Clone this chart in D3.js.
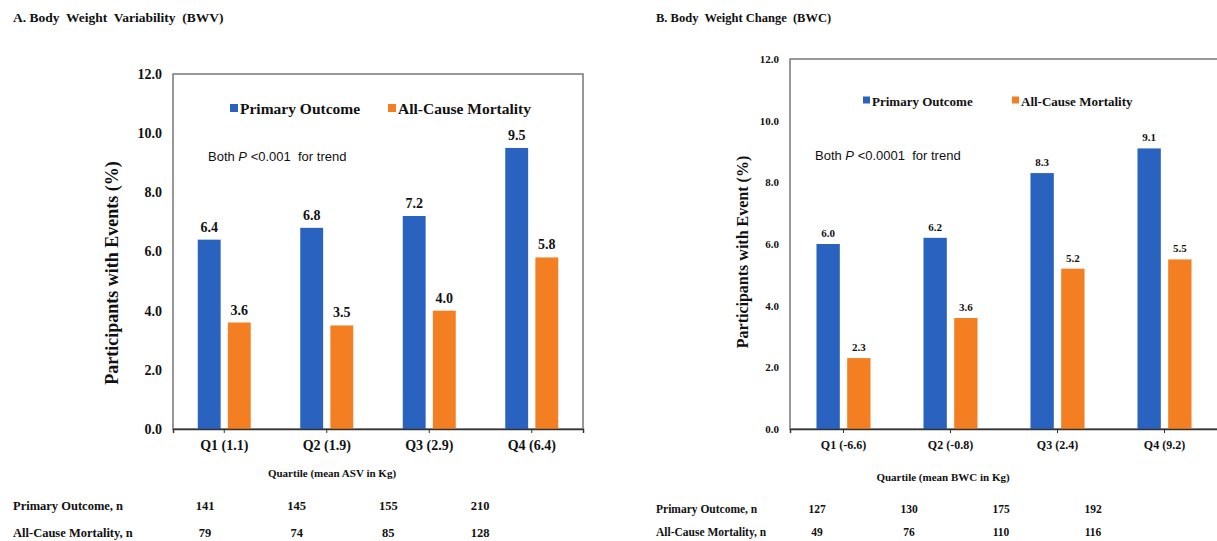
<!DOCTYPE html>
<html>
<head>
<meta charset="utf-8">
<script src="https://cdn.jsdelivr.net/npm/d3@7"></script>
<style>
  body { margin: 0; background: #fff; }
  svg text { font-family: "Liberation Serif", "Times New Roman", serif; font-weight: bold; fill: #111; white-space: pre; }
  .note { font-family: "Liberation Sans", Arial, sans-serif !important; font-weight: normal !important; }
</style>
</head>
<body>
<div id="chart"></div>
<script>
// values
var seriesNames = ["Primary Outcome", "All-Cause Mortality"];
var seriesColors = ["#2a62bf", "#f47f22"];
var yTicks = [0, 2, 4, 6, 8, 10, 12];

var quartilesA = ["Q1 (1.1)", "Q2 (1.9)", "Q3 (2.9)", "Q4 (6.4)"];
var primaryA = [6.4, 6.8, 7.2, 9.5];
var mortalityA = [3.6, 3.5, 4.0, 5.8];
var primaryNA = [141, 145, 155, 210];
var mortalityNA = [79, 74, 85, 128];

var quartilesB = ["Q1 (-6.6)", "Q2 (-0.8)", "Q3 (2.4)", "Q4 (9.2)"];
var primaryB = [6.0, 6.2, 8.3, 9.1];
var mortalityB = [2.3, 3.6, 5.2, 5.5];
var primaryNB = [127, 130, 175, 192];
var mortalityNB = [49, 76, 110, 116];

var serif = "'Liberation Serif', 'Times New Roman', serif";

var svg = d3.select("#chart").append("svg")
	.attr("width", 1217)
	.attr("height", 541);

function drawPanel(p) {
	var g = svg.append("g");

	var rows = p.quartiles.map(function(q, i) {
		return { q: q, vals: [p.primary[i], p.mortality[i]] };
	});

	var x0 = d3.scaleBand().domain(p.quartiles).range([p.left, p.right])
		.paddingInner(p.padIn).paddingOuter(p.padIn / 2);
	var x1 = d3.scaleBand().domain([0, 1]).range([0, x0.bandwidth()]).paddingInner(0.24);
	var y = d3.scaleLinear().domain([0, 12]).range([p.bottom, p.top]);

	// title
	g.append("text").attr("x", p.titleX).attr("y", 22)
		.style("font-size", p.titleSize + "px").text(p.title);

	// frame
	g.append("rect")
		.attr("x", p.left).attr("y", p.top)
		.attr("width", p.right - p.left).attr("height", p.bottom - p.top)
		.attr("fill", "none").attr("stroke", "#777").attr("stroke-width", 1.5);

	// y axis
	var ya = g.append("g").attr("transform", "translate(" + p.left + ",0)")
		.call(d3.axisLeft(y).tickValues(yTicks).tickFormat(d3.format(".1f")).tickSize(0).tickPadding(11));
	ya.select(".domain").remove();
	ya.selectAll("text").style("font-size", p.tickSize + "px")
		.style("font-family", serif).style("fill", "#111");

	// bars
	var grp = g.selectAll(".grp").data(rows).enter().append("g")
		.attr("transform", function(d) { return "translate(" + x0(d.q) + ",0)"; });
	grp.selectAll("rect").data(function(d) { return d.vals; }).enter().append("rect")
		.attr("x", function(d, i) { return x1(i); })
		.attr("y", function(d) { return y(d); })
		.attr("width", x1.bandwidth())
		.attr("height", function(d) { return y(0) - y(d); })
		.attr("fill", function(d, i) { return seriesColors[i]; });
	grp.selectAll(".lbl").data(function(d) { return d.vals; }).enter().append("text")
		.attr("x", function(d, i) { return x1(i) + x1.bandwidth() / 2; })
		.attr("y", function(d) { return y(d) - p.lblGap; })
		.attr("text-anchor", "middle")
		.style("font-size", p.lblSize + "px")
		.text(function(d) { return d.toFixed(1); });

	// x axis
	var xa = g.append("g").attr("transform", "translate(0," + p.bottom + ")")
		.call(d3.axisBottom(x0).tickSize(4).tickPadding(7));
	xa.select(".domain").attr("stroke", "#333").attr("stroke-width", 1.5);
	xa.selectAll(".tick line").attr("stroke", "#333");
	xa.selectAll("text").style("font-size", p.catSize + "px")
		.style("font-family", serif).style("fill", "#111");

	// x title
	g.append("text").attr("x", p.xTitleX).attr("y", p.xTitleY)
		.attr("text-anchor", "middle").style("font-size", "11px").text(p.xTitle);

	// y title
	g.append("text")
		.attr("transform", "translate(" + p.yTitleX + "," + p.yTitleY + ") rotate(-90)")
		.attr("text-anchor", "middle").style("font-size", p.yTitleSize + "px").text(p.yTitle);

	// legend
	var lg = g.selectAll(".leg").data(seriesNames).enter().append("g")
		.attr("transform", function(d, i) { return "translate(" + p.legX[i] + "," + p.legY + ")"; });
	lg.append("rect").attr("x", 0).attr("y", -p.legBox / 2 - 1)
		.attr("width", p.legBox).attr("height", p.legBox)
		.attr("fill", function(d, i) { return seriesColors[i]; });
	lg.append("text").attr("x", p.legBox + 2).attr("y", p.legBox / 2 + 1)
		.style("font-family", serif).style("font-weight", "bold")
		.style("font-size", p.legSize + "px").text(function(d) { return d; });

	// trend note
	var note = g.append("text").attr("class", "note")
		.attr("x", p.noteX).attr("y", p.noteY).style("font-size", "13px");
	note.append("tspan").text("Both ");
	note.append("tspan").style("font-style", "italic").text("P");
	note.append("tspan").text(" <" + p.pText + "  for trend");

	// counts table
	var tx = d3.scalePoint().domain(p.quartiles).range(p.tableRange);
	var tableRows = [
		{ name: "Primary Outcome, n", vals: p.primaryN, y: p.rowY[0] },
		{ name: "All-Cause Mortality, n", vals: p.mortalityN, y: p.rowY[1] }
	];
	tableRows.forEach(function(r) {
		g.append("text").attr("x", p.titleX).attr("y", r.y)
			.style("font-size", p.tableSize + "px").text(r.name);
		g.selectAll(null).data(r.vals).enter().append("text")
			.attr("x", function(d, i) { return tx(p.quartiles[i]); })
			.attr("y", r.y).attr("text-anchor", "middle")
			.style("font-size", p.tableSize + "px")
			.text(function(d) { return d; });
	});
}

drawPanel({
	title: "A. Body  Weight  Variability  (BWV)", titleX: 13, titleSize: 13.5,
	quartiles: quartilesA, primary: primaryA, mortality: mortalityA,
	primaryN: primaryNA, mortalityN: mortalityNA,
	left: 173, right: 583, top: 74, bottom: 429, padIn: 0.483,
	tickSize: 14, lblSize: 14, lblGap: 8, catSize: 14,
	xTitle: "Quartile (mean ASV in Kg)", xTitleX: 332, xTitleY: 477,
	yTitle: "Participants with Events (%)", yTitleX: 118, yTitleY: 273, yTitleSize: 18,
	legX: [230, 388], legY: 109, legBox: 8, legSize: 15.5,
	noteX: 208, noteY: 161, pText: "0.001",
	tableRange: [205, 480], rowY: [510, 537], tableSize: 12.5
});

drawPanel({
	title: "B. Body  Weight Change  (BWC)", titleX: 656, titleSize: 12.5,
	quartiles: quartilesB, primary: primaryB, mortality: mortalityB,
	primaryN: primaryNB, mortalityN: mortalityNB,
	left: 790, right: 1218, top: 59, bottom: 429, padIn: 0.495,
	tickSize: 11, lblSize: 11, lblGap: 7, catSize: 12,
	xTitle: "Quartile (mean BWC in Kg)", xTitleX: 943, xTitleY: 481,
	yTitle: "Participants with Event (%)", yTitleX: 748, yTitleY: 252, yTitleSize: 16,
	legX: [863, 1012], legY: 101, legBox: 7, legSize: 13,
	noteX: 815, noteY: 160, pText: "0.0001",
	tableRange: [817, 1093], rowY: [513, 536], tableSize: 11.5
});
</script>
</body>
</html>
